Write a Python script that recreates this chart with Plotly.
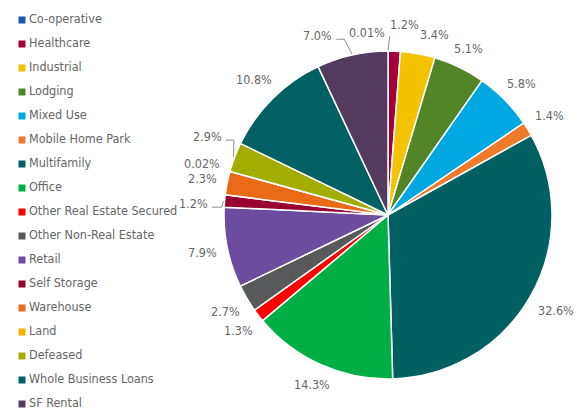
import math
import plotly.graph_objects as go

# Property-type breakdown (share of total, %)
categories = [
    "Co-operative", "Healthcare", "Industrial", "Lodging", "Mixed Use",
    "Mobile Home Park", "Multifamily", "Office", "Other Real Estate Secured",
    "Other Non-Real Estate", "Retail", "Self Storage", "Warehouse", "Land",
    "Defeased", "Whole Business Loans", "SF Rental",
]
shares = [0.01, 1.2, 3.4, 5.1, 5.8, 1.4, 32.6, 14.3, 1.3, 2.7, 7.9, 1.2, 2.3,
          0.02, 2.9, 10.8, 7.0]
share_labels = ["0.01%", "1.2%", "3.4%", "5.1%", "5.8%", "1.4%", "32.6%",
                "14.3%", "1.3%", "2.7%", "7.9%", "1.2%", "2.3%", "0.02%",
                "2.9%", "10.8%", "7.0%"]
colors = [
    "#1F56A5", "#A6003A", "#F3C300", "#528528", "#00A8E1", "#EE7A2B",
    "#005F60", "#00AE46", "#FF0000", "#58595B", "#6C4C9E", "#97002F",
    "#EA6A18", "#F4B000", "#A2AD00", "#006064", "#533A5F",
]

FONT = "DejaVu Sans Condensed, Roboto, sans-serif"
GREY = "#666666"
W, H = 579, 412

# Pie geometry in pixels (y measured upward from the bottom edge)
CX, CY, R = 388, 197, 164
LABEL_SIZE = 12.5
CHAR_W = 8.2          # approx. glyph advance of the label font
GAP = 8               # clearance between pie edge and label box

# Crowded labels: (label direction in degrees clockwise from 12 o'clock,
# distance of label centre from pie centre in px)
label_overrides = {
    0: (353.5, 184),
    1: (5.1, 191),
    2: (14.5, 186),
    11: (273.5, 195),
    14: (293.6, 197),
    16: (338.7, 193),
}
# Labels tied to their slice by a leader line: length of the flat run
leader_runs = {0: 0, 11: 10, 14: 8, 16: 8}

fig = go.Figure()
fig.add_trace(go.Pie(
    labels=categories,
    values=shares,
    text=share_labels,
    textinfo="none",
    sort=False,
    direction="clockwise",
    rotation=0,
    marker=dict(colors=colors, line=dict(color="white", width=1.5)),
    showlegend=False,
    domain=dict(x=[(CX - R) / W, (CX + R) / W],
                y=[(CY - R) / H, (CY + R) / H]),
    hovertemplate="%{label}: %{text}<extra></extra>",
))

# Slice mid-angles, clockwise from 12 o'clock
total = sum(shares)
mids, cum = [], 0.0
for v in shares:
    mids.append((cum + v / 2) / total * 360.0)
    cum += v


def polar(angle_deg, dist):
    a = math.radians(angle_deg)
    return CX + dist * math.sin(a), CY + dist * math.cos(a)


annotations = []
for i, (lab, theta) in enumerate(zip(share_labels, mids)):
    w = CHAR_W * len(lab)
    h = LABEL_SIZE
    if i in label_overrides:
        ang, dist = label_overrides[i]
    else:
        a = math.radians(theta)
        ext = abs(math.sin(a)) * w / 2 + abs(math.cos(a)) * h / 2
        ang, dist = theta, R + GAP + ext
    lx, ly = polar(ang, dist)
    annotations.append(dict(
        x=lx, y=ly, xref="x", yref="y", text=lab, showarrow=False,
        xanchor="center", yanchor="middle",
        font=dict(family=FONT, size=LABEL_SIZE, color=GREY),
    ))
    if i in leader_runs:
        ex, ey = polar(theta, R + 1)
        side = 1 if ex > lx else -1
        sx = lx + side * (w / 2 + 2)
        sy = ly - 4
        run = leader_runs[i]
        fig.add_trace(go.Scatter(
            x=[sx, sx + side * run, ex], y=[sy, sy, ey],
            mode="lines", line=dict(color="#8c8c8c", width=1),
            hoverinfo="skip", showlegend=False,
        ))

# Key down the left side: a small square and the category name per row
row_y = [H - (20 + 24 * i) for i in range(len(categories))]
fig.add_trace(go.Scatter(
    x=[22] * len(categories), y=row_y,
    mode="markers",
    marker=dict(symbol="square", size=7, color=colors),
    hoverinfo="skip", showlegend=False, cliponaxis=False,
))
fig.add_trace(go.Scatter(
    x=[29] * len(categories), y=row_y,
    mode="text",
    text=categories, textposition="middle right",
    textfont=dict(family=FONT, size=12.5, color=GREY),
    hoverinfo="skip", showlegend=False, cliponaxis=False,
))

fig.update_layout(
    width=W, height=H,
    margin=dict(l=0, r=0, t=0, b=0),
    paper_bgcolor="white", plot_bgcolor="rgba(0,0,0,0)",
    xaxis=dict(visible=False, range=[0, W], autorange=False,
               domain=[0, 1], fixedrange=True),
    yaxis=dict(visible=False, range=[0, H], autorange=False,
               domain=[0, 1], fixedrange=True),
    showlegend=False,
    annotations=annotations,
    font=dict(family=FONT, color=GREY),
)

fig.write_html("out.html")
